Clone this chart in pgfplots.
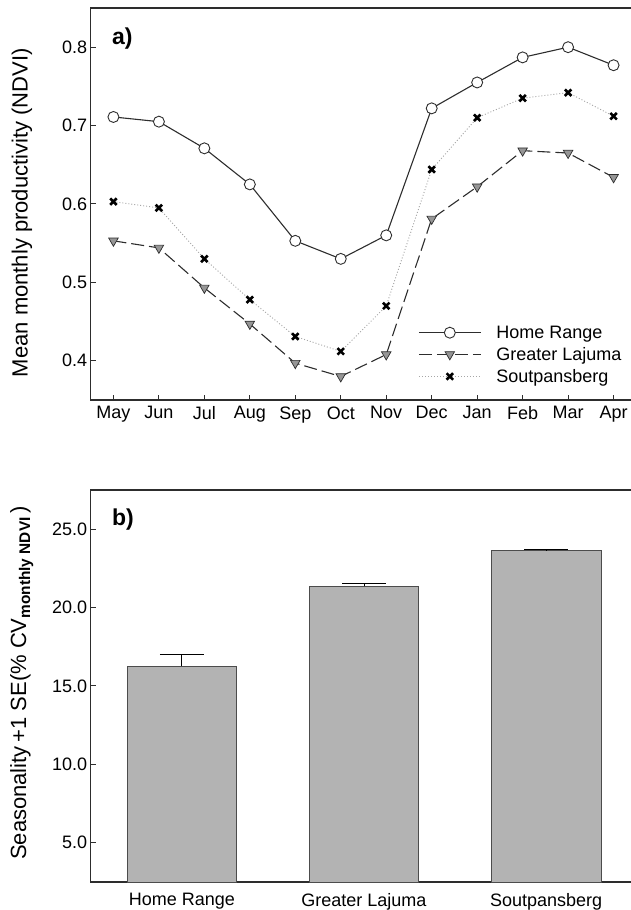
\documentclass[border=0pt]{standalone}
\usepackage{fontspec}
\setmainfont{Liberation Sans}
\usepackage{pgfplots}
\pgfplotsset{compat=1.18}
\definecolor{axgray}{RGB}{45,45,45}
\definecolor{barfill}{RGB}{179,179,179}
\definecolor{trifill}{RGB}{150,150,150}
\begin{document}
\begin{tikzpicture}
\useasboundingbox (0pt,0pt) rectangle (631pt,910pt);
\pgfplotsset{
  every axis/.append style={
    font=\fontsize{18}{21}\selectfont,
    scale only axis,
    anchor=south west,
    axis line style={axgray, line width=1.2pt},
    every tick/.style={axgray, line width=1pt},
    major tick length=5pt,
    tick pos=left, tick align=inside,
    xticklabel style={yshift=-3pt},
    /pgf/number format/assume math mode=true,
    ylabel style={font=\fontsize{22}{26}\selectfont, anchor=center},
    clip=false,
  },
}
% panel a
\begin{axis}[
  at={(90.7pt,510pt)}, width=545.6pt, height=392pt,
  xmin=-0.5, xmax=11.5, ymin=0.35, ymax=0.85,
  xtick={0,...,11},
  xticklabels={May,Jun,Jul,Aug,Sep,Oct,Nov,Dec,Jan,Feb,Mar,Apr},
  ytick={0.4,0.5,0.6,0.7,0.8},
  yticklabel style={/pgf/number format/.cd, fixed, precision=1, fixed zerofill},
  ylabel={Mean monthly productivity (NDVI)},
  ylabel style={at={(axis description cs:-0.126,0.478)}},
  legend style={at={(0.6,0.195)}, anchor=north west, draw=none, fill=none,
    inner sep=0pt, font=\fontsize{18}{21}\selectfont, row sep=3.5pt,
    /tikz/every odd column/.append style={column sep=13pt}},
  legend cell align=left,
  legend image code/.code={\draw[mark repeat=2,mark phase=2,#1] plot coordinates {(0pt,0pt) (31pt,0pt) (62pt,0pt)};},
]
\addplot[axgray, line width=1.1pt, mark=*, mark size=5.5pt, mark options={solid, fill=white, draw=axgray, line width=0.9pt}]
  coordinates {(0,0.711) (1,0.705) (2,0.671) (3,0.625) (4,0.553) (5,0.530)
               (6,0.560) (7,0.722) (8,0.755) (9,0.787) (10,0.800) (11,0.777)};
\addlegendentry{Home Range}
\addplot[axgray, line width=1.1pt, dash pattern=on 13pt off 5pt, mark=triangle*, mark size=5.5pt,
  mark options={solid, rotate=180, fill=trifill, draw=axgray, line width=0.7pt}]
  coordinates {(0,0.553) (1,0.544) (2,0.493) (3,0.447) (4,0.397) (5,0.380)
               (6,0.408) (7,0.581) (8,0.622) (9,0.668) (10,0.665) (11,0.634)};
\addlegendentry{Greater Lajuma}
\addplot[gray!70, line width=0.9pt, dash pattern=on 1pt off 2pt, mark=x, mark size=4.6pt,
  mark options={solid, black, line width=2.6pt}]
  coordinates {(0,0.603) (1,0.595) (2,0.530) (3,0.478) (4,0.431) (5,0.412)
               (6,0.470) (7,0.644) (8,0.710) (9,0.735) (10,0.742) (11,0.712)};
\addlegendentry{Soutpansberg}
\node[font=\fontsize{23}{26}\selectfont\bfseries] at (axis description cs:0.058,0.921) {a)};
\end{axis}
% panel b
\begin{axis}[
  at={(90.7pt,28pt)}, width=546.6pt, height=392pt,
  xmin=-0.5, xmax=2.5, ymin=2.5, ymax=27.5,
  xtick={0,1,2},
  xticklabels={Home Range,Greater Lajuma,Soutpansberg},
  major x tick style={draw=none},
  ytick={5,10,15,20,25},
  yticklabel style={/pgf/number format/.cd, fixed, precision=1, fixed zerofill},
  ylabel={Seasonality\,+1 SE(\% CV\textsubscript{\bfseries monthly NDVI}\,)},
  ylabel style={at={(axis description cs:-0.126,0.508)}},
  ybar, bar width=109.5pt, bar shift=0pt,
]
\addplot[fill=barfill, draw=black!70, line width=0.9pt,
  error bars/.cd, y dir=plus, y explicit,
  error bar style={black, line width=1pt},
  error mark options={rotate=90, mark size=22pt, line width=1pt, black}]
  coordinates {(0,16.26) +- (0,0.76) (1,21.36) +- (0,0.19) (2,23.64) +- (0,0.06)};
\node[font=\fontsize{23}{26}\selectfont\bfseries] at (axis description cs:0.059,0.924) {b)};
\end{axis}
\end{tikzpicture}
\end{document}
